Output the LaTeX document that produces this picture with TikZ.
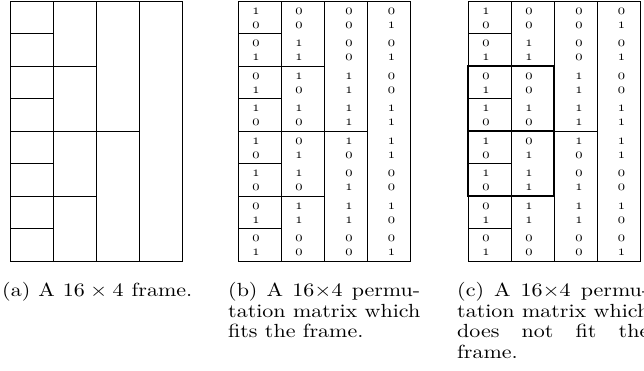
\documentclass[tikz,border=0pt]{standalone}
\usepackage{graphicx}
% old-style figures from the math italic font
\font\osfdigits=cmmi10 at 14.5pt
\tikzset{
  gridline/.style={line width=0.85pt, black},
  fitbox/.style={line width=2.4pt, black},
  bit/.style={inner sep=0pt, font=\osfdigits},
  capline/.style={inner sep=0pt, anchor=base west},
}
% caption text, widened to the printed proportions
\newcommand{\capscale}[1]{\scalebox{2.2}[1.9]{#1}}
\newcommand{\capfull}[1]{\capscale{\makebox[87.3pt][s]{#1}}}
% a 16 x 4 frame whose left edge is at x = #1
\newcommand{\drawframe}[1]{%
  \draw[gridline] (#1,1) rectangle ++(172.5,260);
  \foreach \c in {1,2,3} \draw[gridline] ({#1+43.125*\c},1) -- ++(0,260);
  \foreach \k in {1,...,7} \draw[gridline] (#1,{1+32.5*\k}) -- ++(43.125,0);
  \foreach \k in {2,4,6} \draw[gridline] (#1,{1+32.5*\k}) -- ++(86.25,0);
  \draw[gridline] (#1,131) -- ++(129.375,0);
}
% one row of bits: #1 = prefix, #2 = left x, #3 = row, #4..#7 = bits
\newcommand{\bitrow}[7]{%
  \pgfmathsetmacro{\rowy}{1+16.25*(#3-1)+ifthenelse(mod(#3,2)==1,10.3,7.75)}
  \node[bit] (#1-#3-1) at ({#2+18},\rowy) {#4};
  \node[bit] (#1-#3-2) at ({#2+61},\rowy) {#5};
  \node[bit] (#1-#3-3) at ({#2+111},\rowy) {#6};
  \node[bit] (#1-#3-4) at ({#2+153.5},\rowy) {#7};
}

\begin{document}
\begin{tikzpicture}[x=1pt,y=-1pt]
\useasboundingbox (0,0) rectangle (644,370);

% (a) the frame
\drawframe{10}

% (b) a permutation matrix which fits the frame
\drawframe{238}
\foreach \r/\a/\b/\c/\d in {1/1/0/0/0, 2/0/0/0/1, 3/0/1/0/0, 4/1/1/0/1,
    5/0/1/1/0, 6/1/0/1/0, 7/1/1/1/1, 8/0/0/1/1, 9/1/0/1/1, 10/0/1/0/1,
    11/1/1/0/0, 12/0/0/1/0, 13/0/1/1/1, 14/1/1/1/0, 15/0/0/0/0, 16/1/0/0/1}
  {\bitrow{b}{238}{\r}{\a}{\b}{\c}{\d}}

% (c) a permutation matrix which does not fit the frame
\drawframe{468}
\foreach \r/\a/\b/\c/\d in {1/1/0/0/0, 2/0/0/0/1, 3/0/1/0/0, 4/1/1/0/1,
    5/0/0/1/0, 6/1/0/1/0, 7/1/1/1/1, 8/0/0/1/1, 9/1/0/1/1, 10/0/1/0/1,
    11/1/1/0/0, 12/0/1/1/0, 13/0/1/1/1, 14/1/1/1/0, 15/0/0/0/0, 16/1/0/0/1}
  {\bitrow{c}{468}{\r}{\a}{\b}{\c}{\d}}
\draw[fitbox] (468,66) rectangle (554.25,131);
\draw[fitbox] (468,131) rectangle (554.25,196);

% captions
\node[capline] (capa) at (2,296.5) {\capscale{\makebox[86.4pt][s]{(a)\ A $16\times4$ frame.}}};

\node[capline] (capb1) at (228,296.5) {\capfull{(b) A $16{\times}4$ permu-}};
\node[capline] (capb2) at (228,317) {\capfull{tation matrix which}};
\node[capline] (capb3) at (228,337.5) {\capscale{fits the frame.}};

\node[capline] (capc1) at (457,296.5) {\capfull{(c) A $16{\times}4$ permu-}};
\node[capline] (capc2) at (457,317) {\capfull{tation matrix which}};
\node[capline] (capc3) at (457,337.5) {\capfull{does not fit the}};
\node[capline] (capc4) at (457,358) {\capscale{frame.}};
\end{tikzpicture}
\end{document}
